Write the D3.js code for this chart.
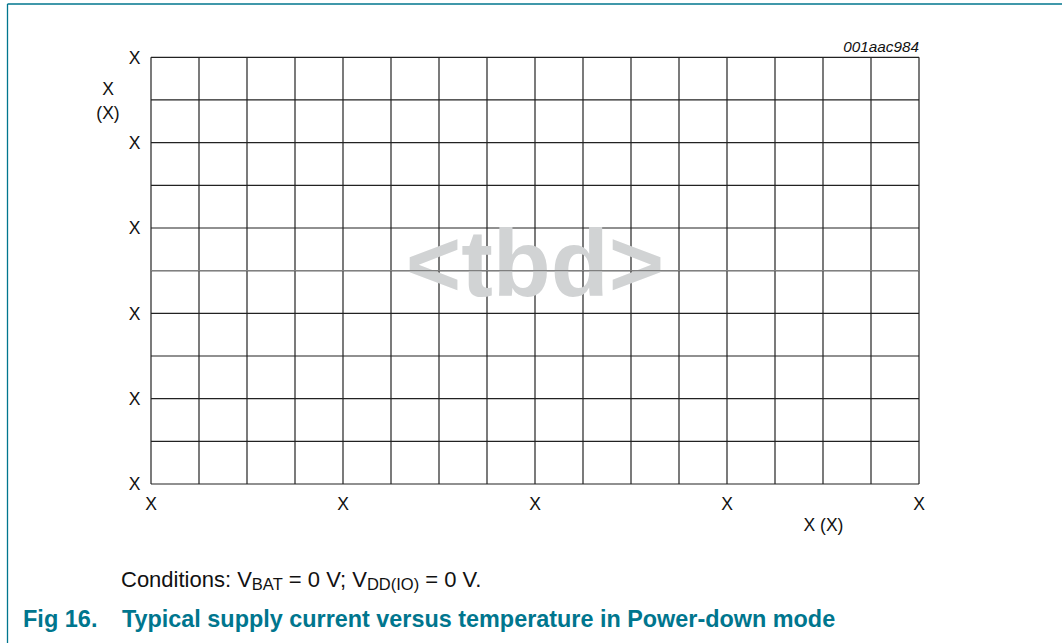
<!DOCTYPE html>
<html>
<head>
<meta charset="utf-8">
<script src="https://cdn.jsdelivr.net/npm/d3@7"></script>
<style>
  body { margin: 0; background: #fff; }
  text { font-family: "Liberation Sans", Arial, sans-serif; }
</style>
</head>
<body>
<div id="chart"></div>
<script>
var width = 1062
var height = 643
var teal = "#00768e"

// grid divisions (placeholder chart, no real data)
var xCols = 16
var yRows = 10
var xTickLabels = ["X", "X", "X", "X", "X"]
var yTickLabels = ["X", "X", "X", "X", "X", "X"]
var xTitle = "X (X)"
var yTitle = ["X", "(X)"]
var figId = "001aac984"
var placeholder = "<tbd>"

var svg = d3.select("#chart").append("svg")
    .attr("width", width).attr("height", height)

// page frame (left + top rule)
svg.append("line").attr("x1", 7.5).attr("x2", 7.5).attr("y1", 4).attr("y2", height)
    .attr("stroke", teal).attr("stroke-width", 1.3)
svg.append("line").attr("x1", 7.5).attr("x2", width).attr("y1", 4).attr("y2", 4)
    .attr("stroke", teal).attr("stroke-width", 1.3)

var x = d3.scaleLinear().domain([0, xCols]).range([151, 919])
var y = d3.scaleLinear().domain([0, yRows]).range([484, 57.3])

var grid = svg.append("g")
grid.selectAll(".v").data(d3.range(xCols + 1)).enter().append("line")
    .attr("x1", d => x(d)).attr("x2", d => x(d))
    .attr("y1", y(0)).attr("y2", y(yRows))
    .attr("stroke", "#222").attr("stroke-width", 1.2)
grid.selectAll(".h").data(d3.range(yRows + 1)).enter().append("line")
    .attr("x1", x(0)).attr("x2", x(xCols))
    .attr("y1", d => y(d)).attr("y2", d => y(d))
    .attr("stroke", "#222").attr("stroke-width", 1.2)

// x tick labels
svg.selectAll(".xt").data(xTickLabels).enter().append("text")
    .attr("x", (d, i) => x(i * xCols / (xTickLabels.length - 1)))
    .attr("y", 510)
    .attr("text-anchor", "middle")
    .attr("font-size", 17.5).attr("fill", "#111")
    .text(d => d)

// y tick labels
svg.selectAll(".yt").data(yTickLabels).enter().append("text")
    .attr("x", 140.5)
    .attr("y", (d, i) => y(i * yRows / (yTickLabels.length - 1)) + 6.3)
    .attr("text-anchor", "end")
    .attr("font-size", 17.5).attr("fill", "#111")
    .text(d => d)

// axis titles
svg.selectAll(".ytitle").data(yTitle).enter().append("text")
    .attr("x", 108).attr("y", (d, i) => 94.5 + i * 24.5)
    .attr("text-anchor", "middle")
    .attr("font-size", 17.5).attr("fill", "#111")
    .text(d => d)
svg.append("text").attr("x", 823.5).attr("y", 531)
    .attr("text-anchor", "middle")
    .attr("font-size", 17.5).attr("fill", "#111")
    .text(xTitle)

svg.append("text").attr("x", 919).attr("y", 52)
    .attr("text-anchor", "end").attr("font-style", "italic")
    .attr("font-size", 15.3).attr("fill", "#111")
    .text(figId)

// placeholder watermark
svg.append("text").attr("x", 535).attr("y", 296)
    .attr("text-anchor", "middle").attr("font-weight", "bold")
    .attr("font-size", 95).attr("fill", "#d1d3d4")
    .text(placeholder)

// middle horizontal rule shows through the watermark in grey
svg.append("line")
    .attr("x1", x(0)).attr("x2", x(xCols))
    .attr("y1", y(yRows / 2)).attr("y2", y(yRows / 2))
    .attr("stroke", "#808080").attr("stroke-width", 1.2)

// conditions line
var cond = svg.append("text").attr("x", 121).attr("y", 587)
    .attr("font-size", 22).attr("fill", "#111")
cond.append("tspan").text("Conditions: V")
cond.append("tspan").attr("font-size", 16.5).attr("dy", 2.5).text("BAT")
cond.append("tspan").attr("dy", -2.5).text(" = 0 V; V")
cond.append("tspan").attr("font-size", 16.5).attr("dy", 2.5).text("DD(IO)")
cond.append("tspan").attr("dy", -2.5).text(" = 0 V.")

// figure caption
svg.append("text").attr("x", 23).attr("y", 627)
    .attr("font-size", 23.5).attr("font-weight", "bold").attr("fill", teal)
    .text("Fig 16.")
svg.append("text").attr("x", 122).attr("y", 627)
    .attr("font-size", 23.4).attr("font-weight", "bold").attr("fill", teal)
    .text("Typical supply current versus temperature in Power-down mode")
</script>
</body>
</html>
